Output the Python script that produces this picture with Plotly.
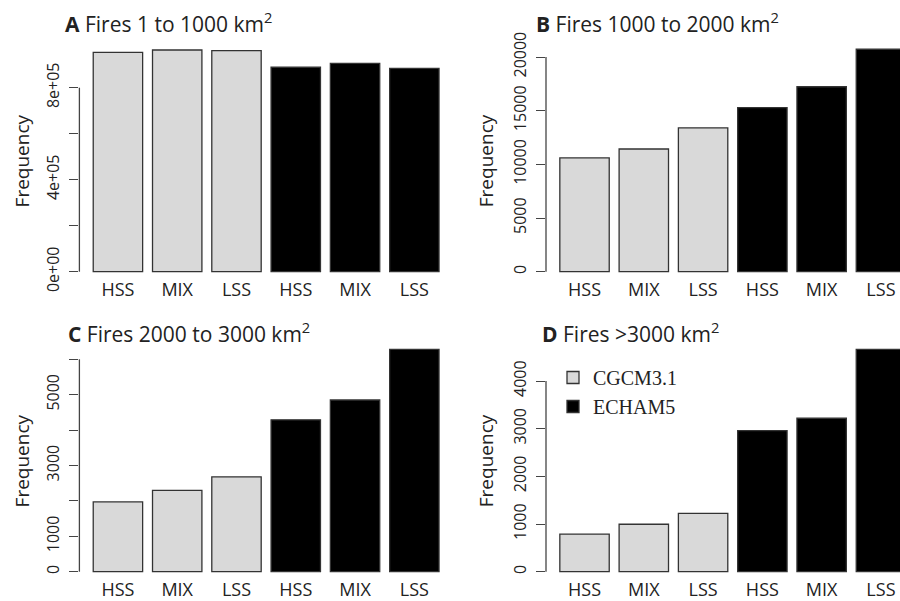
import plotly.graph_objects as go

# ---- data ----
categories = ["HSS", "MIX", "LSS"]
models = ["CGCM3.1", "ECHAM5"]

a_cgcm = [954000, 964000, 961000]
a_echam = [889000, 906000, 884000]
b_cgcm = [10600, 11430, 13400]
b_echam = [15280, 17230, 20720]
c_cgcm = [1970, 2300, 2680]
c_echam = [4290, 4850, 6280]
d_cgcm = [790, 995, 1225]
d_echam = [2960, 3220, 4665]

# labelled ticks and unlabelled (minor) ticks per panel
a_ticks = [0, 400000, 800000]
a_ticktext = ["0e+00", "4e+05", "8e+05"]
a_minor = [200000, 600000]
b_ticks = [0, 5000, 10000, 15000, 20000]
b_ticktext = ["0", "5000", "10000", "15000", "20000"]
b_minor = []
c_ticks = [0, 1000, 3000, 5000]
c_ticktext = ["0", "1000", "3000", "5000"]
c_minor = [2000, 4000, 6000]
d_ticks = [0, 1000, 2000, 3000, 4000]
d_ticktext = ["0", "1000", "2000", "3000", "4000"]
d_minor = []

titles = ["<b>A</b> Fires 1 to 1000 km<sup>2</sup>",
          "<b>B</b> Fires 1000 to 2000 km<sup>2</sup>",
          "<b>C</b> Fires 2000 to 3000 km<sup>2</sup>",
          "<b>D</b> Fires >3000 km<sup>2</sup>"]

W, H = 900, 601
FONT = "Open Sans"
GRAY = "#d9d9d9"
EDGE = "#333333"
AX = "#444444"

# bar positions (R barplot style: width 1, space 0.2)
n = 2 * len(categories)
centers = [0.7 + 1.2 * i for i in range(n)]
xlabels = categories + categories

panels = [
    dict(cg=a_cgcm, ec=a_echam, tv=a_ticks, tt=a_ticktext, mv=a_minor, x0=79.4, x1=452.9, base=271.7, scale=0.00023, top=40, bot=277, yt=57.7),
    dict(cg=b_cgcm, ec=b_echam, tv=b_ticks, tt=b_ticktext, mv=b_minor, x0=546, x1=900, base=271.7, scale=0.010735, top=40, bot=277, yt=60.5),
    dict(cg=c_cgcm, ec=c_echam, tv=c_ticks, tt=c_ticktext, mv=c_minor, x0=79.4, x1=452.9, base=571.7, scale=0.0354, top=340, bot=577, yt=57.7),
    dict(cg=d_cgcm, ec=d_echam, tv=d_ticks, tt=d_ticktext, mv=d_minor, x0=546, x1=900, base=571.7, scale=0.04767, top=340, bot=577, yt=60.5),
]
PXU = 49.4  # px per bar unit

fig = go.Figure()
layout = dict(width=W, height=H, margin=dict(l=0, r=0, t=0, b=0, pad=0, autoexpand=False),
              plot_bgcolor="white", paper_bgcolor="white", barmode="overlay",
              showlegend=True, shapes=[], annotations=[])

for k, p in enumerate(panels):
    ax = "" if k == 0 else str(k + 1)
    xr = [-0.08, -0.08 + (p["x1"] - p["x0"]) / PXU]
    yr = [-(p["bot"] - p["base"]) / p["scale"], (p["base"] - p["top"]) / p["scale"]]
    show = (k == 3)
    fig.add_trace(go.Bar(x=centers[:3], y=p["cg"], width=1, name=models[0],
                         marker=dict(color=GRAY, line=dict(color=EDGE, width=1.3)),
                         xaxis="x" + ax, yaxis="y" + ax, showlegend=show, legendgroup=models[0]))
    fig.add_trace(go.Bar(x=centers[3:], y=p["ec"], width=1, name=models[1],
                         marker=dict(color="black", line=dict(color=EDGE, width=1.3)),
                         xaxis="x" + ax, yaxis="y" + ax, showlegend=show, legendgroup=models[1]))
    layout["xaxis" + ax] = dict(domain=[p["x0"] / W, p["x1"] / W], range=xr, anchor="y" + ax,
                                tickmode="array", tickvals=centers, ticktext=xlabels,
                                showgrid=False, zeroline=False, showline=False, ticks="",
                                automargin=False,
                                tickfont=dict(family=FONT, size=18, color="#222"))
    yax = dict(domain=[1 - p["bot"] / H, 1 - p["top"] / H], range=yr, anchor="x" + ax,
               tickmode="array", tickvals=p["tv"], ticktext=p["tt"],
               showgrid=False, zeroline=False, showline=False,
               ticks="outside", ticklen=9, tickwidth=1.3, tickcolor=AX,
               tickangle=-90, ticklabelstandoff=4, automargin=False,
               tickfont=dict(family=FONT, size=16, color="#222"))
    if p["mv"]:
        yax["minor"] = dict(tickmode="array", tickvals=p["mv"], ticks="outside",
                            ticklen=9, tickwidth=1.3, tickcolor=AX, showgrid=False)
    layout["yaxis" + ax] = yax
    all_t = sorted(p["tv"] + p["mv"])
    layout["shapes"].append(dict(type="line", xref="x" + ax + " domain", yref="y" + ax,
                                 x0=0, x1=0, y0=all_t[0], y1=all_t[-1],
                                 line=dict(color=AX, width=1.3)))
    # y-axis title
    layout["annotations"].append(dict(text="Frequency", textangle=-90, showarrow=False,
                                      xref="paper", yref="paper",
                                      x=(p["x0"] - p["yt"]) / W, y=1 - (p["base"] - 111) / H,
                                      xanchor="center", yanchor="middle",
                                      font=dict(family=FONT, size=19, color="#222")))
    # panel title
    tx = [63, 534, 66, 540][k]
    ty = [23, 23, 333, 333][k]
    layout["annotations"].append(dict(text=titles[k], showarrow=False, xref="paper", yref="paper",
                                      x=tx / W, y=1 - ty / H, xanchor="left", yanchor="middle",
                                      font=dict(family=FONT, size=21, color="#222")))

layout["legend"] = dict(x=553 / W, y=1 - 358 / H, xanchor="left", yanchor="top",
                        bgcolor="rgba(0,0,0,0)",
                        font=dict(family="Liberation Serif", size=20, color="#222"),
                        tracegroupgap=0)
fig.update_layout(**layout)
fig.write_html("out.html", config={"displayModeBar": False},
               post_script="document.body.style.margin='0px';")
